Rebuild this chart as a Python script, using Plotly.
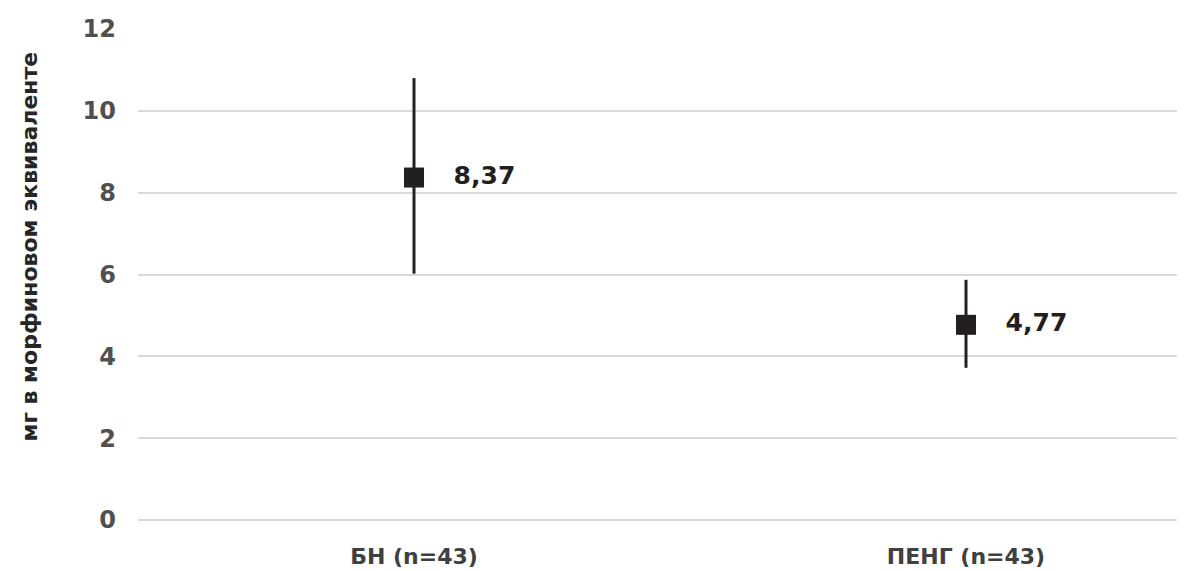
import plotly.graph_objects as go

categories = ["БН (n=43)", "ПЕНГ (n=43)"]
means = [8.37, 4.77]
upper = [10.80, 5.87]
lower = [6.02, 3.72]
y_ticks = [0, 2, 4, 6, 8, 10, 12]
y_title = "мг в морфиновом эквиваленте"

labels = [f"{v:.2f}".replace(".", ",") for v in means]
plus = [u - m for u, m in zip(upper, means)]
minus = [m - l for m, l in zip(means, lower)]

fig = go.Figure()
fig.add_trace(go.Scatter(
    x=categories, y=means, mode="markers+text",
    marker=dict(symbol="square", size=20, color="#231f20"),
    error_y=dict(type="data", symmetric=False, array=plus, arrayminus=minus,
                 color="#231f20", thickness=3, width=0),
    text=["   " + t for t in labels], textposition="middle right",
    textfont=dict(family="DejaVu Sans", size=25, color="#231f20", weight="bold"),
    cliponaxis=False, showlegend=False,
))

fig.add_annotation(
    text=y_title, textangle=-90, xref="paper", yref="paper",
    x=-0.1045, y=0.556, xanchor="center", yanchor="middle", showarrow=False,
    font=dict(family="DejaVu Sans", size=22, color="#262626", weight="bold"),
)

fig.update_layout(
    width=1177, height=563,
    margin=dict(l=130, r=0, t=21, b=51),
    plot_bgcolor="white", paper_bgcolor="white",
    font=dict(family="DejaVu Sans", color="#555555"),
    xaxis=dict(type="category", range=[-0.5, -0.5 + 1047 / 552],
               showgrid=False, zeroline=False, showline=False, ticks="",
               automargin=False, ticklabelstandoff=21,
               tickfont=dict(family="DejaVu Sans", size=22, color="#404040",
                             weight="bold")),
    yaxis=dict(range=[0, 12], tickvals=y_ticks, showgrid=True,
               gridcolor="#d9d9d9", gridwidth=2,
               zeroline=True, zerolinecolor="#d9d9d9", zerolinewidth=2,
               showline=False, ticks="", ticklabelstandoff=21, automargin=False,
               tickfont=dict(size=24, color="#505050", weight="bold")),
)
fig.write_html("out.html")
